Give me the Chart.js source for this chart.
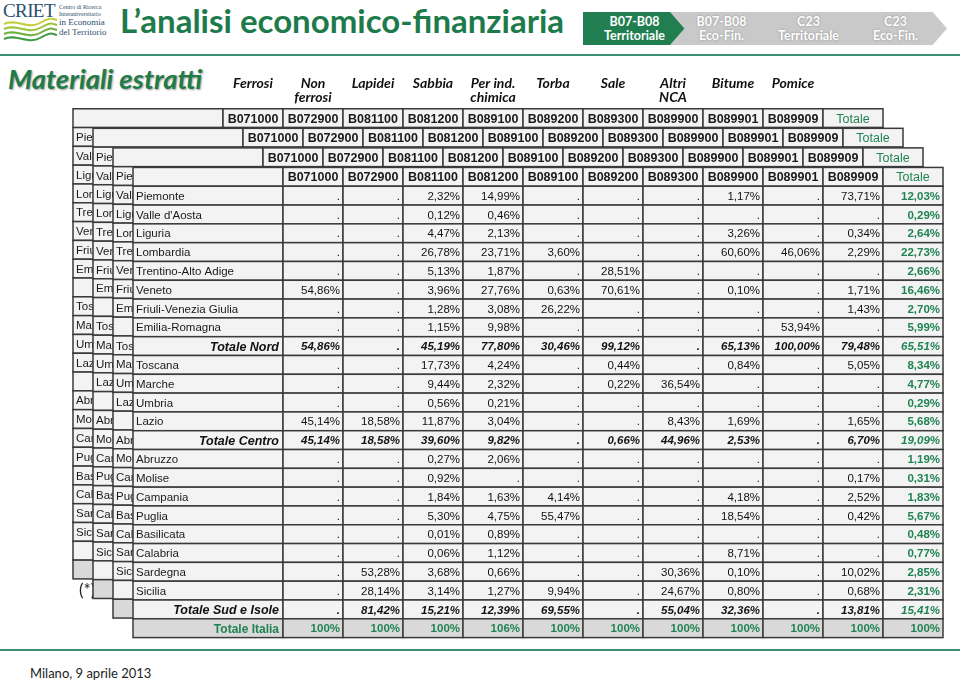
<!DOCTYPE html>
<html>
<head>
<meta charset="utf-8">
<script src="https://cdn.jsdelivr.net/npm/chart.js@4.4.0/dist/chart.umd.min.js"></script>
<style>
  body { margin: 0; width: 960px; height: 682px; position: relative; overflow: hidden; background: #fff; font-family: Lato, "Open Sans", sans-serif; }
  .abs { position: absolute; }
  #title { left: 120px; top: -1px; font: bold 33px/42px Lato, sans-serif; color: #1d7b4b; }
  #subtitle { left: 8px; top: 62px; font: italic bold 27.5px/34px Lato, sans-serif; color: #1f7c48; text-shadow: 1px 1px 2px #9a9a9a; }
  .rule { left: 0; width: 960px; height: 2px; background: #3d8f70; }
  .chev { position: absolute; top: 12px; width: 103px; height: 33px; box-sizing: border-box; padding-top: 3px;
          background: #c9c9c9; color: #fff; font: bold 12.5px/14px Lato, sans-serif; text-align: center;
          text-shadow: 0 0 2px #8a8a8a; clip-path: polygon(0 0, 86% 0, 100% 50%, 86% 100%, 0 100%, 14% 50%); }
  .chev.first { background: #217e50; text-shadow: none; clip-path: polygon(0 0, 86% 0, 100% 50%, 86% 100%, 0 100%); }
  #criet { left: 3px; top: 1px; font: 19px/20px "Liberation Serif", serif; color: #2b4f6e; letter-spacing: -0.6px; }
  .tiny { left: 59px; font-family: "Liberation Serif", serif; color: #2b4f6e; white-space: nowrap; }
  #footer { left: 30px; top: 665px; font: 13px/16px Lato, sans-serif; color: #222; }
</style>
</head>
<body>
<div id="criet" class="abs">CRIET</div>
<div class="abs tiny" style="top:4px;font-size:6px">Centro di Ricerca</div>
<div class="abs tiny" style="top:11px;font-size:6px">Interuniversitario</div>
<div class="abs tiny" style="top:17px;font-size:9px">in Economia</div>
<div class="abs tiny" style="top:27px;font-size:9px">del Territorio</div>
<svg class="abs" style="left:2px;top:18px" width="56" height="28">
  <path d="M2 6 C14 0, 26 12, 38 5 S 50 1, 55 2" stroke="#c3cf3a" stroke-width="2" fill="none"/>
  <path d="M2 11 C14 5, 26 17, 38 10 S 50 6, 55 7" stroke="#9cc43c" stroke-width="2" fill="none"/>
  <path d="M2 16 C14 10, 26 22, 38 15 S 50 11, 55 12" stroke="#6fb040" stroke-width="2" fill="none"/>
  <path d="M2 21 C14 15, 26 27, 38 20 S 50 16, 55 17" stroke="#3f9a45" stroke-width="2" fill="none"/>
</svg>
<div id="title" class="abs">L’analisi economico-finanziaria</div>
<div class="chev first" style="left:583px">B07-B08<br>Territoriale</div>
<div class="chev" style="left:670px">B07-B08<br>Eco-Fin.</div>
<div class="chev" style="left:757px">C23<br>Territoriale</div>
<div class="chev" style="left:844px">C23<br>Eco-Fin.</div>
<div class="abs rule" style="top:54px"></div>
<div id="subtitle" class="abs">Materiali estratti</div>
<canvas id="tables" class="abs" width="900" height="583" style="left:58px;top:64px"></canvas>
<div class="abs rule" style="top:649px"></div>
<div id="footer" class="abs">Milano, 9 aprile 2013</div>

<script>
const materials = ["Ferrosi", "Non\nferrosi", "Lapidei", "Sabbia", "Per ind.\nchimica", "Torba", "Sale", "Altri\nNCA", "Bitume", "Pomice"];
const codes = ["B071000", "B072900", "B081100", "B081200", "B089100", "B089200", "B089300", "B089900", "B089901", "B089909", "Totale"];
const regions = [
  "Piemonte", "Valle d'Aosta", "Liguria", "Lombardia", "Trentino-Alto Adige", "Veneto", "Friuli-Venezia Giulia", "Emilia-Romagna", "Totale Nord",
  "Toscana", "Marche", "Umbria", "Lazio", "Totale Centro",
  "Abruzzo", "Molise", "Campania", "Puglia", "Basilicata", "Calabria", "Sardegna", "Sicilia", "Totale Sud e Isole",
  "Totale Italia",
];
const n = null;
// one array per column, rows in the order of regions
const b071000 = [n, n, n, n, n, 54.86, n, n, 54.86, n, n, n, 45.14, 45.14, n, n, n, n, n, n, n, n, n, 100];
const b072900 = [n, n, n, n, n, n, n, n, n, n, n, n, 18.58, 18.58, n, n, n, n, n, n, 53.28, 28.14, 81.42, 100];
const b081100 = [2.32, 0.12, 4.47, 26.78, 5.13, 3.96, 1.28, 1.15, 45.19, 17.73, 9.44, 0.56, 11.87, 39.6, 0.27, 0.92, 1.84, 5.3, 0.01, 0.06, 3.68, 3.14, 15.21, 100];
const b081200 = [14.99, 0.46, 2.13, 23.71, 1.87, 27.76, 3.08, 9.98, 77.8, 4.24, 2.32, 0.21, 3.04, 9.82, 2.06, n, 1.63, 4.75, 0.89, 1.12, 0.66, 1.27, 12.39, 106];
const b089100 = [n, n, n, 3.6, n, 0.63, 26.22, n, 30.46, n, n, n, n, n, n, n, 4.14, 55.47, n, n, n, 9.94, 69.55, 100];
const b089200 = [n, n, n, n, 28.51, 70.61, n, n, 99.12, 0.44, 0.22, n, n, 0.66, n, n, n, n, n, n, n, n, n, 100];
const b089300 = [n, n, n, n, n, n, n, n, n, n, 36.54, n, 8.43, 44.96, n, n, n, n, n, n, 30.36, 24.67, 55.04, 100];
const b089900 = [1.17, n, 3.26, 60.6, n, 0.1, n, n, 65.13, 0.84, n, n, 1.69, 2.53, n, n, 4.18, 18.54, n, 8.71, 0.1, 0.8, 32.36, 100];
const b089901 = [n, n, n, 46.06, n, n, n, 53.94, 100, n, n, n, n, n, n, n, n, n, n, n, n, n, n, 100];
const b089909 = [73.71, n, 0.34, 2.29, n, 1.71, 1.43, n, 79.48, 5.05, n, n, 1.65, 6.7, n, 0.17, 2.52, 0.42, n, n, 10.02, 0.68, 13.81, 100];
const totale = [12.03, 0.29, 2.64, 22.73, 2.66, 16.46, 2.7, 5.99, 65.51, 8.34, 4.77, 0.29, 5.68, 19.09, 1.19, 0.31, 1.83, 5.67, 0.48, 0.77, 2.85, 2.31, 15.41, 100];
const columns = [b071000, b072900, b081100, b081200, b089100, b089200, b089300, b089900, b089901, b089909, totale];

const layers = [3, 2, 1, 0]; // stacked copies of the table, back to front

const GREEN = "#1f8352";
const LINE = "#3a3a3a";
const CELL = "#f3f3f3";
const GREY = "#d9d9d9";
const SANS = "'Liberation Sans', Arial, sans-serif";

const fmt = (v, last) => v.toFixed(last ? 0 : 2).replace(".", ",") + "%";

const tablePlugin = {
  id: "tables",
  afterDraw(chart) {
    const { ctx } = chart;
    const xs = chart.scales.x;
    const ys = chart.scales.y;

    const box = (x0, x1, r0, r1, fill) => {
      const l = xs.getPixelForValue(x0);
      const rt = xs.getPixelForValue(x1);
      const t = ys.getPixelForValue(r0);
      const b = ys.getPixelForValue(r1);
      ctx.fillStyle = fill;
      ctx.fillRect(l, t, rt - l, b - t);
      ctx.strokeStyle = LINE;
      ctx.lineWidth = 1.5;
      ctx.strokeRect(l, t, rt - l, b - t);
      return { l, rt, t, b, mid: (t + b) / 2 + 1 };
    };

    ctx.save();
    ctx.textBaseline = "middle";

    // material names above the rearmost table
    ctx.fillStyle = "#111";
    ctx.font = "italic bold 14px Lato, sans-serif";
    ctx.textAlign = "center";
    materials.forEach((m, i) => {
      const cx = xs.getPixelForValue(i + 0.5 - 1);
      m.split("\n").forEach((line, j) => {
        ctx.fillText(line, cx, ys.getPixelForValue(-4.44 + j * 0.7));
      });
    });

    layers.forEach((k) => {
      const dx = -k / 3;
      const dy = -k * 1.04;
      const last = regions.length;

      // header row
      box(-2.5 + dx, dx, dy, dy + 1, CELL);
      codes.forEach((c, i) => {
        const cl = box(i + dx, i + 1 + dx, dy, dy + 1, CELL);
        const isTot = i === codes.length - 1;
        ctx.font = (isTot ? "" : "bold ") + "12.5px " + SANS;
        ctx.fillStyle = isTot ? GREEN : "#1a1a1a";
        ctx.textAlign = "center";
        ctx.fillText(c, (cl.l + cl.rt) / 2, cl.mid);
      });

      regions.forEach((reg, r) => {
        const top = r + 1 + dy;
        const isItalia = r === last - 1;
        const isTotal = reg.startsWith("Totale") && !isItalia;
        const bg = isItalia ? GREY : CELL;
        const lab = box(-2.5 + dx, dx, top, top + 1, bg);
        if (isItalia) {
          ctx.font = "bold 12px " + SANS;
          ctx.fillStyle = GREEN;
          ctx.textAlign = "right";
          ctx.fillText(reg, lab.rt - 4, lab.mid);
        } else if (isTotal) {
          ctx.font = "italic bold 12.5px " + SANS;
          ctx.fillStyle = "#111";
          ctx.textAlign = "right";
          ctx.fillText(reg, lab.rt - 4, lab.mid);
        } else {
          ctx.font = "11.5px " + SANS;
          ctx.fillStyle = "#1a1a1a";
          ctx.textAlign = "left";
          ctx.fillText(reg, lab.l + 3, lab.mid);
        }
        columns.forEach((col, i) => {
          const cl = box(i + dx, i + 1 + dx, top, top + 1, bg);
          const v = col[r];
          const isTotCol = i === columns.length - 1;
          let style = "";
          if (isTotal) style = "italic bold ";
          else if (isItalia || isTotCol) style = "bold ";
          ctx.font = style + "11.5px " + SANS;
          ctx.fillStyle = isItalia || isTotCol ? GREEN : "#111";
          ctx.textAlign = "right";
          ctx.fillText(v === null ? "." : fmt(v, isItalia), cl.rt - 3, cl.mid);
        });
      });

      if (k === 3) {
        // footnote marker under the rearmost copy, mostly hidden by the next one
        ctx.font = "17px Lato, sans-serif";
        ctx.fillStyle = "#222";
        ctx.textAlign = "left";
        ctx.fillText("(*)", xs.getPixelForValue(-2.5 + dx) + 6, ys.getPixelForValue(last + 1 + dy) + 12);
      }
    });
    ctx.restore();
  },
};

new Chart("tables", {
  type: "scatter",
  data: { datasets: [] },
  options: {
    responsive: false,
    animation: false,
    layout: { padding: 0 },
    plugins: {
      legend: { display: false },
      tooltip: { enabled: false },
    },
    scales: {
      x: { type: "linear", min: -3.75, max: 11.25, display: false },
      y: { type: "linear", min: -5.5, max: 25.5, reverse: true, display: false },
    },
  },
  plugins: [tablePlugin],
});
</script>
</body>
</html>
